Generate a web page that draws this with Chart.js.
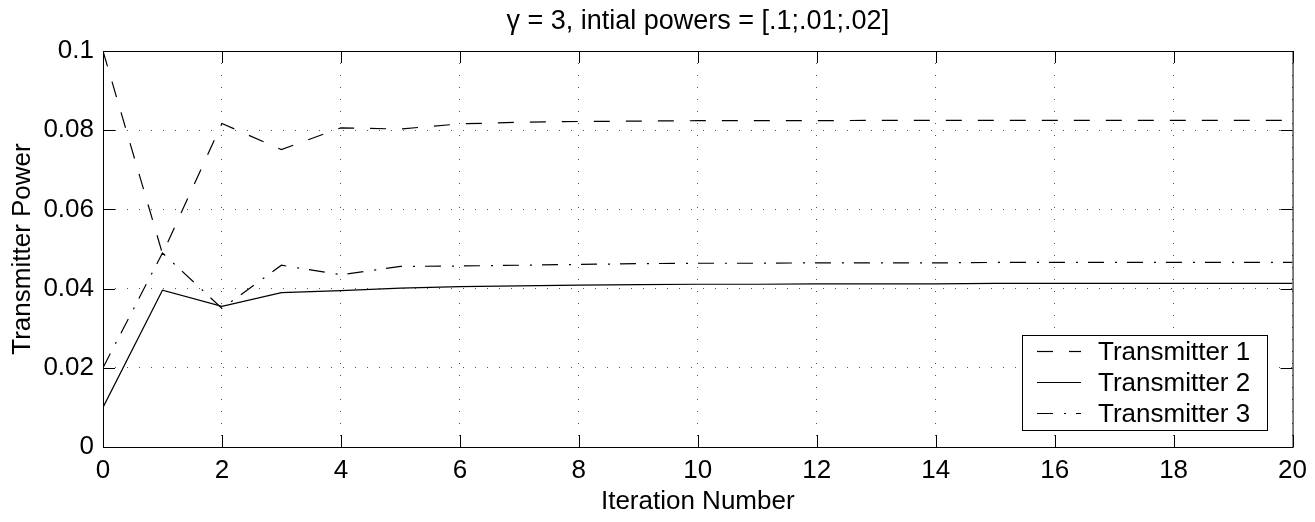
<!DOCTYPE html>
<html lang="en">
<head>
    <meta charset="UTF-8">
    <title>Transmitter Power</title>
    <script src="https://cdn.jsdelivr.net/npm/chart.js"></script>
    <style>
        body { margin: 0; background: #fff; }
        #chart { display: block; }
    </style>
</head>
<body>
    <canvas id="chart" width="1315" height="522"></canvas>

    <script>
        // values
        const iterations = [0, 1, 2, 3, 4, 5, 6, 7, 8, 9, 10, 11, 12, 13, 14, 15, 16, 17, 18, 19, 20];
        const transmitter1 = [0.1, 0.0488, 0.0817, 0.0751, 0.0806, 0.0803, 0.0816, 0.0820, 0.0822, 0.0823, 0.0824,
                              0.0824, 0.0824, 0.0825, 0.0825, 0.0825, 0.0825, 0.0825, 0.0825, 0.0825, 0.0825];
        const transmitter2 = [0.01, 0.0396, 0.0355, 0.0390, 0.0395, 0.0401, 0.0405, 0.0407, 0.0409, 0.0410, 0.0411,
                              0.0411, 0.0412, 0.0412, 0.0412, 0.0413, 0.0413, 0.0413, 0.0413, 0.0413, 0.0413];
        const transmitter3 = [0.02, 0.0490, 0.0350, 0.0459, 0.0435, 0.0456, 0.0457, 0.0459, 0.0461, 0.0463, 0.0464,
                              0.0464, 0.0465, 0.0465, 0.0465, 0.0466, 0.0466, 0.0466, 0.0466, 0.0466, 0.0466];
        const seriesNames = ['Transmitter 1', 'Transmitter 2', 'Transmitter 3'];
        const xTicks = [0, 2, 4, 6, 8, 10, 12, 14, 16, 18, 20];
        const yTicks = [0, 0.02, 0.04, 0.06, 0.08, 0.1];
        const yTickLabels = ['0', '0.02', '0.04', '0.06', '0.08', '0.1'];
        const chartTitle = 'γ = 3, intial powers = [.1;.01;.02]';

        const FONT = 'Liberation Sans, Arial, sans-serif';
        const FS = 26;

        function toPoints(values) {
            return values.map((v, i) => ({ x: iterations[i], y: v }));
        }

        // box, inward tick marks, title over the axes and legend, matlab style
        const matlabFrame = {
            id: 'matlabFrame',
            afterDraw(chart) {
                const ctx = chart.ctx;
                const a = chart.chartArea;
                const xs = chart.scales.x, ys = chart.scales.y;
                ctx.save();
                ctx.strokeStyle = '#000';
                ctx.lineWidth = 1;
                ctx.setLineDash([]);
                ctx.strokeRect(a.left + 0.5, a.top + 0.5, a.right - a.left, a.bottom - a.top);

                const tl = 12;
                ctx.beginPath();
                xTicks.forEach(v => {
                    const px = Math.round(xs.getPixelForValue(v)) + 0.5;
                    ctx.moveTo(px, a.bottom); ctx.lineTo(px, a.bottom - tl);
                    ctx.moveTo(px, a.top); ctx.lineTo(px, a.top + tl);
                });
                yTicks.forEach(v => {
                    const py = Math.round(ys.getPixelForValue(v)) + 0.5;
                    ctx.moveTo(a.left, py); ctx.lineTo(a.left + tl, py);
                    ctx.moveTo(a.right, py); ctx.lineTo(a.right - tl, py);
                });
                ctx.stroke();

                ctx.fillStyle = '#000';
                ctx.textAlign = 'center';
                ctx.textBaseline = 'middle';
                ctx.font = '27px ' + FONT;
                ctx.fillText(chartTitle, (a.left + a.right) / 2, 22);

                // legend box
                const box = { left: 1022, top: 335, right: 1267, bottom: 430 };
                ctx.fillStyle = '#fff';
                ctx.fillRect(box.left, box.top, box.right - box.left, box.bottom - box.top);
                ctx.strokeRect(box.left + 0.5, box.top + 0.5, box.right - box.left, box.bottom - box.top);
                ctx.font = FS + 'px ' + FONT;
                ctx.textAlign = 'left';
                ctx.fillStyle = '#000';
                chart.data.datasets.forEach((ds, i) => {
                    const y = 351 + i * 31 + 0.5;
                    ctx.setLineDash(ds.borderDash || []);
                    ctx.lineWidth = ds.borderWidth;
                    ctx.beginPath();
                    ctx.moveTo(1037, y);
                    ctx.lineTo(1081, y);
                    ctx.stroke();
                    ctx.fillText(ds.label, 1098, y + 1);
                });
                ctx.restore();
            }
        };

        const ctx = document.getElementById('chart').getContext('2d');
        new Chart(ctx, {
            type: 'line',
            data: {
                datasets: [
                    { label: seriesNames[0], data: toPoints(transmitter1), borderDash: [16, 16] },
                    { label: seriesNames[1], data: toPoints(transmitter2), borderDash: [] },
                    { label: seriesNames[2], data: toPoints(transmitter3), borderDash: [16, 11, 2, 10] }
                ].map(ds => Object.assign(ds, {
                    borderColor: '#000',
                    borderWidth: 1.2,
                    pointRadius: 0,
                    tension: 0,
                    fill: false
                }))
            },
            options: {
                responsive: false,
                animation: false,
                layout: { padding: { left: 0, right: 22, top: 51, bottom: 0 } },
                plugins: {
                    legend: { display: false },
                    tooltip: { enabled: false },
                    title: { display: false }
                },
                scales: {
                    x: {
                        type: 'linear',
                        min: 0,
                        max: 20,
                        afterBuildTicks: s => { s.ticks = xTicks.map(v => ({ value: v })); },
                        afterFit: s => { s.height = 75; },
                        ticks: { color: '#000', font: { family: FONT, size: FS }, padding: 8, maxRotation: 0 },
                        grid: { color: '#555', lineWidth: 1, drawTicks: false },
                        border: { display: false, dash: [1, 11] },
                        title: {
                            display: true,
                            text: 'Iteration Number',
                            color: '#000',
                            font: { family: FONT, size: FS },
                            padding: { top: 0, bottom: 5 }
                        }
                    },
                    y: {
                        min: 0,
                        max: 0.1,
                        afterBuildTicks: s => { s.ticks = yTicks.map(v => ({ value: v })); },
                        afterFit: s => { s.width = 103; },
                        ticks: {
                            color: '#000',
                            font: { family: FONT, size: FS },
                            padding: 9,
                            callback: (v, i) => yTickLabels[i]
                        },
                        grid: { color: '#555', lineWidth: 1, drawTicks: false },
                        border: { display: false, dash: [1, 11] },
                        title: {
                            display: true,
                            text: 'Transmitter Power',
                            color: '#000',
                            font: { family: FONT, size: FS },
                            padding: { top: 7, bottom: 0 }
                        }
                    }
                }
            },
            plugins: [matlabFrame]
        });
    </script>
</body>
</html>
